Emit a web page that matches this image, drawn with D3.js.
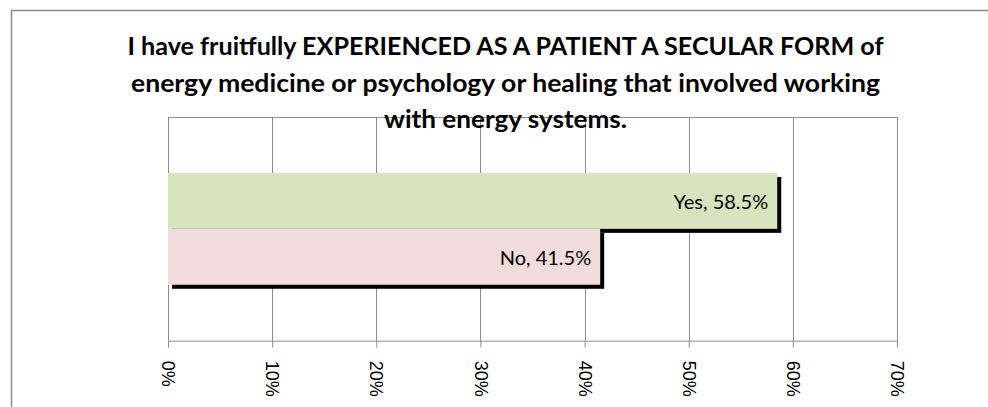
<!DOCTYPE html>
<html>
<head>
<meta charset="utf-8">
<script src="https://cdn.jsdelivr.net/npm/d3@7"></script>
<style>
	body { margin: 0; background: #fff; }
	svg { display: block; }
</style>
</head>
<body>
<svg id="chart"></svg>
<script>
var titleLines = [
	"I have fruitfully EXPERIENCED AS A PATIENT A SECULAR FORM of",
	"energy medicine or psychology or healing that involved working",
	"with energy systems."
];
var titleWidths = [756, 749, 243];
var categories = ["Experienced"];
var seriesNames = ["Yes", "No"];
var seriesValues = [0.585, 0.415];
var tickValues = [0, 0.1, 0.2, 0.3, 0.4, 0.5, 0.6, 0.7];

var width = 988, height = 407;
var plot = {left: 168, right: 897, top: 117, bottom: 340.7};
var colors = {Yes: '#D7E4BD', No: '#F2DCDB'};
var gridColor = '#8c8c8c';

var svg = d3.select('#chart')
	.attr('width', width)
	.attr('height', height);

// chart frame (runs off the right and bottom of the picture)
svg.append('rect')
	.attr('x', 11.5)
	.attr('y', 10.5)
	.attr('width', 1200)
	.attr('height', 600)
	.attr('fill', 'none')
	.attr('stroke', '#8a8a8a')
	.attr('stroke-width', 1.5);

var x = d3.scaleLinear()
	.domain([0, 0.7])
	.range([plot.left, plot.right]);

var yCat = d3.scaleBand()
	.domain(categories)
	.range([plot.top, plot.bottom])
	.paddingInner(0)
	.paddingOuter(0.5);

var ySeries = d3.scaleBand()
	.domain(seriesNames)
	.range([0, yCat.bandwidth()])
	.padding(0);

// gridlines
svg.append('g')
	.attr('class', 'grid')
	.selectAll('line')
	.data(tickValues)
	.enter()
	.append('line')
	.attr('x1', function (d) { return Math.round(x(d)) + 0.5; })
	.attr('x2', function (d) { return Math.round(x(d)) + 0.5; })
	.attr('y1', plot.top)
	.attr('y2', plot.bottom)
	.attr('stroke', gridColor)
	.attr('stroke-width', 1);

// plot area top border
svg.append('line')
	.attr('x1', plot.left)
	.attr('x2', plot.right + 0.5)
	.attr('y1', plot.top + 0.5)
	.attr('y2', plot.top + 0.5)
	.attr('stroke', gridColor);

// x axis
var axis = svg.append('g')
	.attr('transform', 'translate(0,' + plot.bottom + ')')
	.call(d3.axisBottom(x)
		.tickValues(tickValues)
		.tickFormat(d3.format('.0%'))
		.tickSizeInner(7)
		.tickSizeOuter(0)
		.tickPadding(0));

axis.select('.domain').attr('stroke', gridColor);
axis.selectAll('.tick line').attr('stroke', gridColor);
axis.selectAll('.tick text')
	.attr('fill', '#000')
	.style('font-family', '"Liberation Sans", Arial, sans-serif')
	.style('font-size', '18px')
	.attr('text-anchor', 'start')
	.attr('transform', 'rotate(90)')
	.attr('x', 20)
	.attr('y', 0)
	.attr('dy', '0.35em');

var bars = seriesNames.map(function (s, i) {
	return {name: s, value: seriesValues[i], cat: categories[0]};
});

// shadows first, bars on top
svg.append('g')
	.attr('class', 'shadows')
	.selectAll('rect')
	.data(bars)
	.enter()
	.append('rect')
	.attr('x', x(0) + 4)
	.attr('y', function (d) { return yCat(d.cat) + ySeries(d.name) + 4; })
	.attr('width', function (d) { return x(d.value) - x(0); })
	.attr('height', ySeries.bandwidth())
	.attr('fill', '#000');

svg.append('g')
	.attr('class', 'bars')
	.selectAll('rect')
	.data(bars)
	.enter()
	.append('rect')
	.attr('x', x(0))
	.attr('y', function (d) { return yCat(d.cat) + ySeries(d.name); })
	.attr('width', function (d) { return x(d.value) - x(0); })
	.attr('height', ySeries.bandwidth())
	.attr('fill', function (d) { return colors[d.name]; });

svg.append('g')
	.attr('class', 'labels')
	.selectAll('text')
	.data(bars)
	.enter()
	.append('text')
	.attr('x', function (d) { return x(d.value) - 9; })
	.attr('y', function (d) { return yCat(d.cat) + ySeries(d.name) + ySeries.bandwidth() / 2 + 8; })
	.attr('text-anchor', 'end')
	.style('font-family', 'Lato, "Open Sans", sans-serif')
	.style('font-size', '20px')
	.attr('fill', '#000')
	.text(function (d) { return d.name + ', ' + d3.format('.1%')(d.value); });

// title
svg.append('g')
	.attr('class', 'title')
	.selectAll('text')
	.data(titleLines)
	.enter()
	.append('text')
	.attr('x', 505.5)
	.attr('y', function (d, i) { return 55 + i * 36.5; })
	.attr('text-anchor', 'middle')
	.attr('textLength', function (d, i) { return titleWidths[i]; })
	.attr('lengthAdjust', 'spacingAndGlyphs')
	.style('font-family', 'Lato, "Open Sans", sans-serif')
	.style('font-weight', 'bold')
	.style('font-size', '24.5px')
	.attr('fill', '#000')
	.text(function (d) { return d; });
</script>
</body>
</html>
